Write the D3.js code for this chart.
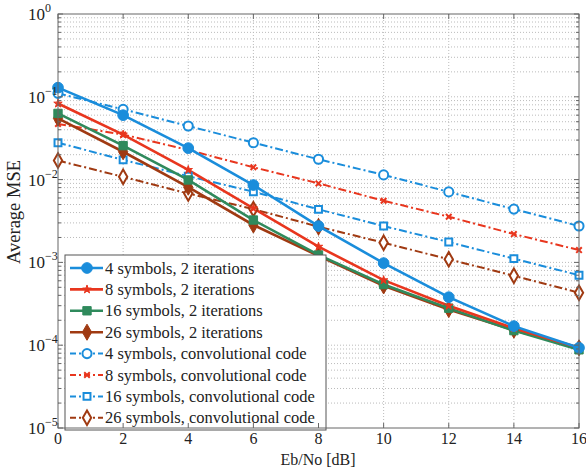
<!DOCTYPE html>
<html><head><meta charset="utf-8">
<script src="https://cdn.jsdelivr.net/npm/d3@7"></script>
<style>body{margin:0;background:#fff}svg{display:block}</style>
</head><body><svg id="c" width="586" height="471"></svg>
<script>
const ebno = [0,2,4,6,8,10,12,14,16];
const xTicks = [0,2,4,6,8,10,12,14,16];
const yExps = [0,-1,-2,-3,-4,-5];
const seriesNames = ["4 symbols, 2 iterations","8 symbols, 2 iterations","16 symbols, 2 iterations","26 symbols, 2 iterations",
  "4 symbols, convolutional code","8 symbols, convolutional code","16 symbols, convolutional code","26 symbols, convolutional code"];
const it4  = [0.129,0.060,0.0240,0.0086,0.00275,0.00098,0.00038,0.00017,0.000093];
const it8  = [0.083,0.035,0.0131,0.0045,0.00155,0.00061,0.00030,0.000160,0.000093];
const it16 = [0.063,0.0257,0.0099,0.00325,0.00123,0.00054,0.00028,0.00015,0.000088];
const it26 = [0.055,0.0217,0.0081,0.00283,0.00120,0.00052,0.00027,0.000152,0.000093];
const cv4  = [0.110,0.0706,0.0444,0.0279,0.0176,0.0114,0.0071,0.0044,0.00275];
const cv8  = [0.047,0.035,0.0228,0.0141,0.0090,0.00556,0.00356,0.0022,0.00141];
const cv16 = [0.0279,0.0173,0.0110,0.00714,0.00437,0.00275,0.00176,0.00111,0.00070];
const cv26 = [0.0170,0.0108,0.0068,0.0044,0.0027,0.00173,0.00109,0.00069,0.00043];

const FONT = "\"Liberation Serif\", \"Times New Roman\", Tinos, serif";
const blue="#1a8ddb", red="#e8361e", green="#2f8a5c", brown="#a03a12";
const series = [
  {v:it4, c:blue, dash:null, sym:d3.symbolCircle, size:90, fill:true},
  {v:it8, c:red, dash:null, sym:d3.symbolStar, size:22, fill:true},
  {v:it16, c:green, dash:null, sym:d3.symbolSquare, size:70, fill:true},
  {v:it26, c:brown, dash:null, sym:d3.symbolDiamond, size:75, fill:true},
  {v:cv4, c:blue, dash:"8,3,2,3", sym:d3.symbolCircle, size:65, fill:false},
  {v:cv8, c:red, dash:"8,3,2,3", sym:d3.symbolTimes, size:22, fill:false},
  {v:cv16, c:blue, dash:"8,3,2,3", sym:d3.symbolSquare, size:48, fill:false},
  {v:cv26, c:brown, dash:"8,3,2,3", sym:d3.symbolDiamond, size:60, fill:false}
];
series.forEach((s,i)=>s.name=seriesNames[i]);

const L=58, R=579, T=14, B=428;
const svg = d3.select("#c");
const x = d3.scaleLinear().domain([0,16]).range([L,R]);
const y = d3.scaleLog().domain([1e-5,1]).range([B,T]);

// grid
const g = svg.append("g");
const minor = [];
for (let e=-5;e<0;e++) for (let k=2;k<=9;k++) minor.push(k*Math.pow(10,e));
const major = yExps.map(e=>Math.pow(10,e));
g.selectAll(".hg").data(minor.concat(major.slice(1,5))).join("line")
  .attr("x1",L).attr("x2",R).attr("y1",d=>y(d)).attr("y2",d=>y(d))
  .attr("stroke","#bbb").attr("stroke-width",1).attr("stroke-dasharray","1,2");
g.selectAll(".vg").data(xTicks.slice(1,-1)).join("line")
  .attr("x1",d=>x(d)).attr("x2",d=>x(d)).attr("y1",T).attr("y2",B)
  .attr("stroke","#bbb").attr("stroke-width",1).attr("stroke-dasharray","1,2");

// lines
const line = d3.line().x((d,i)=>x(ebno[i])).y(d=>y(d));
const order=[4,5,6,7,3,2,1,0];
order.forEach(i=>{
  const s=series[i];
  svg.append("path").attr("d",line(s.v)).attr("fill","none").attr("stroke",s.c)
    .attr("stroke-width",s.dash?2:2.6).attr("stroke-dasharray",s.dash);
});
order.forEach(i=>{
  const s=series[i];
  const sy=d3.symbol().type(s.sym).size(s.size);
  svg.append("g").selectAll("path").data(s.v).join("path")
    .attr("transform",(d,j)=>`translate(${x(ebno[j])},${y(d)})`)
    .attr("d",sy)
    .attr("fill",s.fill?s.c:(s.sym===d3.symbolTimes?"none":"#fff"))
    .attr("stroke",s.c).attr("stroke-width",s.fill?1:2);
});

// legend
const lg = svg.append("g");
lg.append("rect").attr("x",65).attr("y",255).attr("width",261).attr("height",175)
  .attr("fill","#fff").attr("stroke","#555").attr("stroke-width",1);
series.forEach((s,i)=>{
  const yy = 268 + i*21.4;
  lg.append("line").attr("x1",70).attr("x2",103).attr("y1",yy).attr("y2",yy)
    .attr("stroke",s.c).attr("stroke-width",s.dash?2:2.6).attr("stroke-dasharray",s.dash?"6,3,2,3":null);
  lg.append("path").attr("transform",`translate(87,${yy})`).attr("d",d3.symbol().type(s.sym).size(s.size))
    .attr("fill",s.fill?s.c:(s.sym===d3.symbolTimes?"none":"#fff")).attr("stroke",s.c).attr("stroke-width",s.fill?1:2);
  lg.append("text").attr("x",105).attr("y",yy+5.5).style("font-family",FONT).style("font-size","16.5px").attr("fill","#222").text(s.name);
});

// frame
svg.append("rect").attr("x",L).attr("y",T).attr("width",R-L).attr("height",B-T)
  .attr("fill","none").attr("stroke","#666").attr("stroke-width",1);
const ax = svg.append("g").attr("stroke","#666");
xTicks.forEach(t=>{
  ax.append("line").attr("x1",x(t)).attr("x2",x(t)).attr("y1",B).attr("y2",B-5);
  ax.append("line").attr("x1",x(t)).attr("x2",x(t)).attr("y1",T).attr("y2",T+5);
});
major.forEach(t=>{
  ax.append("line").attr("x1",L).attr("x2",L+5).attr("y1",y(t)).attr("y2",y(t));
  ax.append("line").attr("x1",R).attr("x2",R-5).attr("y1",y(t)).attr("y2",y(t));
});
minor.forEach(t=>{
  ax.append("line").attr("x1",L).attr("x2",L+3).attr("y1",y(t)).attr("y2",y(t));
  ax.append("line").attr("x1",R).attr("x2",R-3).attr("y1",y(t)).attr("y2",y(t));
});
svg.append("g").selectAll("text").data(xTicks).join("text")
  .attr("x",d=>x(d)).attr("y",444).attr("text-anchor","middle").style("font-family",FONT).style("font-size","16px").attr("fill","#222").text(d=>d);
yExps.forEach(e=>{
  const t = svg.append("text").attr("x",28).attr("y",y(Math.pow(10,e))+6).style("font-family",FONT).style("font-size","17px").attr("fill","#222");
  t.append("tspan").text("10");
  t.append("tspan").attr("dy",-8).style("font-size","12px").text(e===0?"0":"\u2212"+(-e));
});
svg.append("text").attr("x",318).attr("y",465).attr("text-anchor","middle").style("font-family",FONT).style("font-size","16px").attr("fill","#222").text("Eb/No [dB]");
svg.append("text").attr("transform","translate(20,212) rotate(-90)").attr("text-anchor","middle")
  .style("font-family",FONT).style("font-size","18.5px").attr("fill","#222").text("Average MSE");
</script></body></html>
